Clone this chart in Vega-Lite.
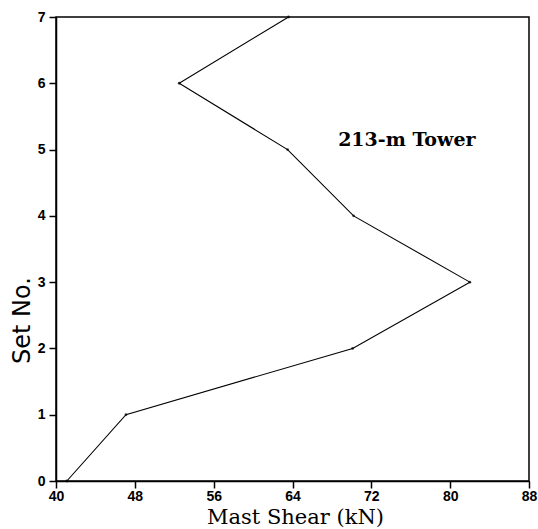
{
  "$schema": "https://vega.github.io/schema/vega-lite/v6.json",
  "autosize": {"type": "none"},
  "padding": {"left": 56, "top": 17, "right": 9, "bottom": 48},
  "width": 473,
  "height": 464,
  "background": "white",
  "config": {
    "view": {"stroke": "black", "strokeWidth": 1.5},
    "axis": {
      "grid": false,
      "domainColor": "black",
      "domainWidth": 1.5,
      "tickColor": "black",
      "tickWidth": 1.5,
      "tickSize": 7,
      "labelColor": "black",
      "labelFont": "Liberation Sans",
      "labelFontWeight": "bold",
      "labelFontSize": 14,
      "labelFlush": false,
      "labelOverlap": false,
      "titleColor": "black",
      "titleFontWeight": "normal"
    }
  },
  "datasets": {
    "shear": [
      {"set": 0, "shear": 41.1},
      {"set": 1, "shear": 47.1},
      {"set": 2, "shear": 70.1},
      {"set": 3, "shear": 82.0},
      {"set": 4, "shear": 70.2},
      {"set": 5, "shear": 63.5},
      {"set": 6, "shear": 52.5},
      {"set": 7, "shear": 63.6}
    ],
    "note": [
      {"shear": 75.6, "set": 5.14, "label": "213-m Tower"}
    ]
  },
  "layer": [
    {
      "data": {"name": "shear"},
      "mark": {"type": "line", "color": "black", "strokeWidth": 1.1},
      "encoding": {
        "x": {
          "field": "shear", "type": "quantitative",
          "scale": {"domain": [40, 88], "nice": false, "zero": false},
          "axis": {
            "values": [40, 48, 56, 64, 72, 80, 88], "format": "d",
            "title": "Mast Shear (kN)", "labelPadding": 1,
            "titleFont": "DejaVu Serif", "titleFontSize": 21,
            "titleX": 239, "titleY": 36, "titleBaseline": "middle", "titleAlign": "center"
          }
        },
        "y": {
          "field": "set", "type": "quantitative",
          "scale": {"domain": [0, 7], "nice": false},
          "axis": {
            "values": [0, 1, 2, 3, 4, 5, 6, 7], "format": "d",
            "title": "Set No.", "labelPadding": 4,
            "titleFont": "DejaVu Sans", "titleFontSize": 24,
            "titleAngle": -90, "titleX": -34, "titleY": 303,
            "titleBaseline": "middle", "titleAlign": "center"
          }
        },
        "order": {"field": "set"}
      }
    },
    {
      "data": {"name": "shear"},
      "mark": {"type": "point", "shape": "circle", "filled": true, "color": "black", "size": 8},
      "encoding": {
        "x": {"field": "shear", "type": "quantitative"},
        "y": {"field": "set", "type": "quantitative"}
      }
    },
    {
      "data": {"name": "note"},
      "mark": {"type": "text", "font": "DejaVu Serif", "fontWeight": "bold", "fontSize": 19, "color": "black", "align": "center", "baseline": "middle"},
      "encoding": {
        "x": {"field": "shear", "type": "quantitative"},
        "y": {"field": "set", "type": "quantitative"},
        "text": {"field": "label"}
      }
    }
  ]
}
